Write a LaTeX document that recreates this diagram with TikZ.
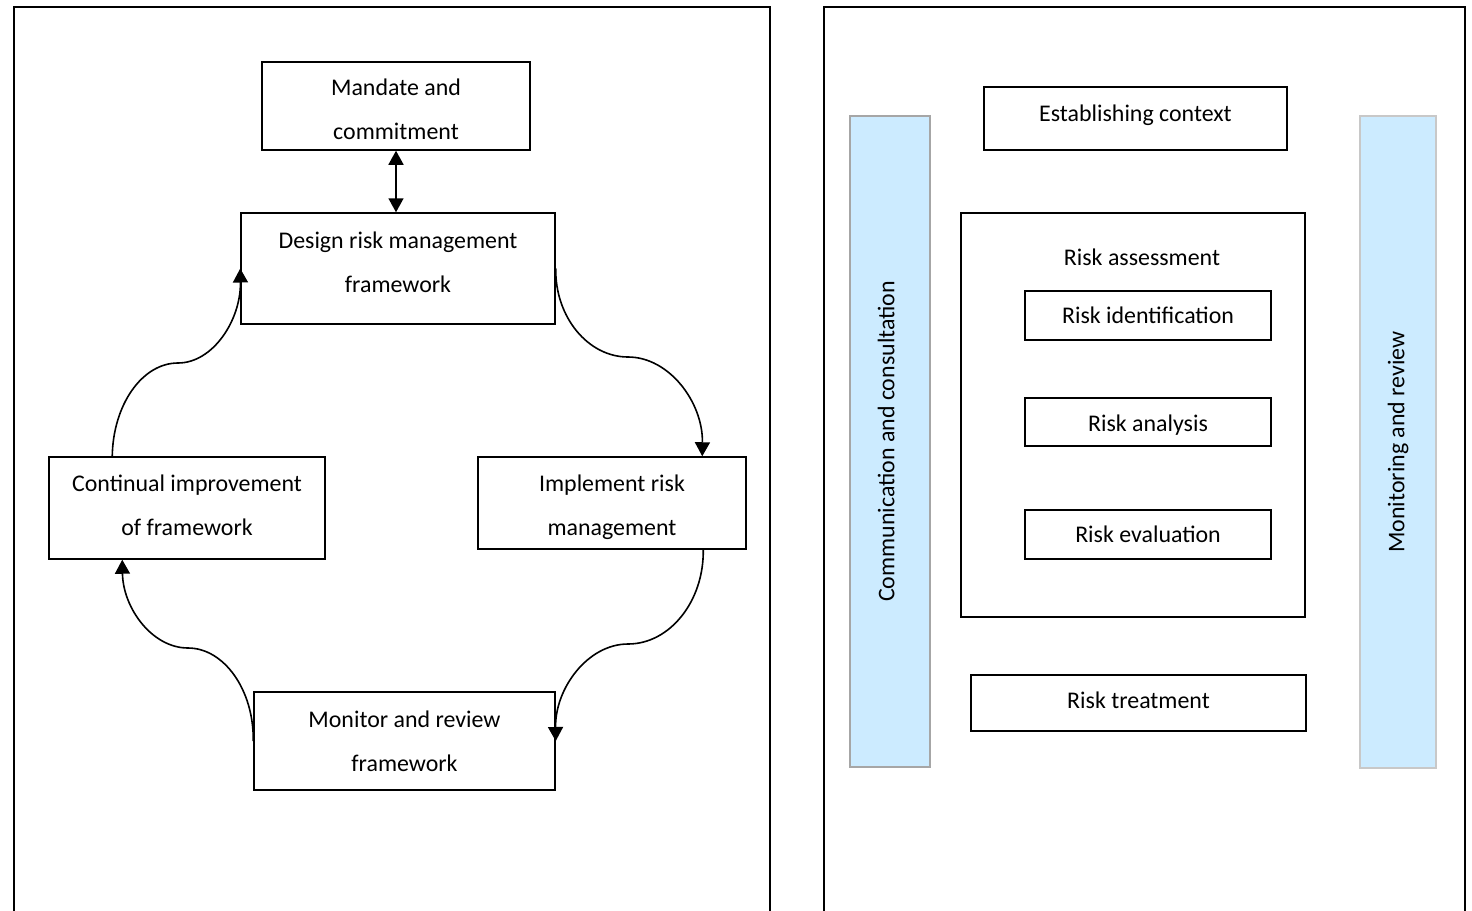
\documentclass[tikz,border=0pt]{standalone}
\usepackage{fontspec}
\setmainfont{Carlito}
\usetikzlibrary{arrows.meta,calc}
\definecolor{barblue}{HTML}{CCEBFF}
\definecolor{bargrayA}{HTML}{A6A6A6}
\definecolor{bargrayB}{HTML}{C8C8C8}
\newcommand\txtup[1]{\rule[-#1]{0pt}{0pt}}
\newcommand\txtdn[1]{\rule{0pt}{#1}}
\tikzset{
  box/.style={draw=black, line width=1.5pt, fill=white, inner sep=0pt, align=center,
              font=\fontsize{23.9}{44}\selectfont},
  plain/.style={inner sep=0pt, align=center, font=\fontsize{23.9}{44}\selectfont},
  bar/.style={fill=barblue, line width=2pt, inner sep=0pt, rotate=90,
              font=\fontsize{23.9}{44}\selectfont},
  frame/.style={draw=black, line width=2pt},
  flow/.style={draw=black, line width=1.6pt, -{Triangle[width=15pt,length=14pt]}},
  dflow/.style={draw=black, line width=1.6pt, {Triangle[width=15pt,length=14pt]}-{Triangle[width=15pt,length=14pt]}}
}
\begin{document}
\begin{tikzpicture}[x=1pt,y=-1pt]
\useasboundingbox (0,0) rectangle (1472,910);
% outer frames
\draw[frame] (14,930) -- (14,7) -- (770,7) -- (770,930);
\draw[frame] (824,930) -- (824,7) -- (1465,7) -- (1465,930);

% left panel
\node[box, minimum width=268pt, minimum height=88pt] (mandate) at (396,106) {\txtdn{24pt}Mandate and\\commitment};
\node[box, minimum width=314pt, minimum height=111pt] (design) at (398,268.5) {Design risk management\\framework\txtup{12pt}};
\node[box, minimum width=268pt, minimum height=92pt] (implement) at (612,503) {\txtdn{26pt}Implement risk\\management};
\node[box, minimum width=276pt, minimum height=102pt] (continual) at (187,508) {Continual improvement\\of framework\txtup{6pt}};
\node[box, minimum width=301pt, minimum height=98pt] (monitor) at (404.5,741) {Monitor and review\\framework};

\draw[dflow] (mandate.south) -- (mandate.south |- design.north);

\coordinate (c1) at (628,357);
\coordinate (c2) at (628,644);
\coordinate (c3) at (188,648);
\coordinate (c4) at (178,363);

\draw[flow] (design.east) .. controls (555,317) and (588,357) .. (c1)
  .. controls (669,357) and (703,402) .. ($(implement.north west)+(225,0)$);
\draw[flow] ($(implement.south west)+(226,0)$) .. controls (704,601) and (670,644) .. (c2)
  .. controls (588,644) and (555,688) .. (monitor.east);
\draw[flow] (monitor.west) .. controls (254,690) and (224,648) .. (c3)
  .. controls (152,648) and (123,608) .. ($(continual.south west)+(74,0)$);
\draw[flow] ($(continual.north west)+(64,0)$) .. controls (113,405) and (142,363) .. (c4)
  .. controls (213,363) and (241,320) .. (design.west);

% right panel
\node[bar, draw=bargrayA, minimum width=651pt, minimum height=80pt] (comm) at (890,441.5) {Communication and consultation\txtup{8pt}};
\node[bar, draw=bargrayB, minimum width=652pt, minimum height=76pt] (monrev) at (1398,442) {Monitoring and review};

\node[box, minimum width=303pt, minimum height=63pt] (context) at (1135.5,118.5) {Establishing context\txtup{11pt}};
\node[box, minimum width=344pt, minimum height=404pt] (assess) at (1133,415) {};
\node[plain] (assesslabel) at (1142,257) {Risk assessment};
\node[box, minimum width=246pt, minimum height=49pt] (ident) at (1148,315.5) {Risk identification};
\node[box, minimum width=246pt, minimum height=48pt] (analysis) at (1148,422) {\txtdn{23pt}Risk analysis};
\node[box, minimum width=246pt, minimum height=49pt] (evaluation) at (1148,534.5) {Risk evaluation};
\node[box, minimum width=335pt, minimum height=56pt] (treatment) at (1138.5,703) {Risk treatment\txtup{6pt}};
\end{tikzpicture}
\end{document}
